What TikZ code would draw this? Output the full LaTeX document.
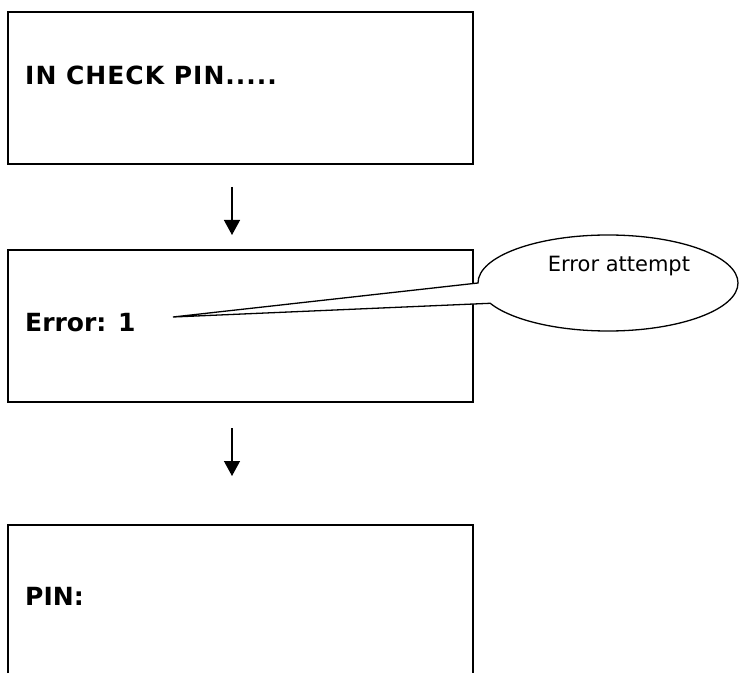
\documentclass[tikz,border=0pt]{standalone}
\usepackage{fontspec}
\setmainfont{DejaVu Sans}
\usetikzlibrary{arrows.meta}
\tikzset{
  boxframe/.style={draw=black, line width=2pt, rectangle, inner sep=0pt, minimum width=465pt, minimum height=152pt},
  boldlabel/.style={anchor=base west, inner sep=0pt, font=\fontsize{25}{30}\selectfont\bfseries},
  flowarrow/.style={line width=1.3pt, -{Triangle[width=16pt,length=15pt]}},
  callout/.style={draw=black, fill=white, line width=1.3pt, line join=miter},
  calloutlabel/.style={anchor=base, inner sep=0pt, font=\fontsize{21}{25}\selectfont}
}
\begin{document}
\begin{tikzpicture}[x=1pt,y=1pt]
\useasboundingbox (0,0) rectangle (739,673);
% boxes
\node[boxframe] (box1) at (240.5,585) {};
\node[boxframe] (box2) at (240.5,347) {};
\draw[line width=2pt] (8,0) -- (8,148) -- (473,148) -- (473,0);
% texts
\node[boldlabel, font=\fontsize{25}{30}\selectfont\bfseries\addfontfeatures{LetterSpace=4}] (t1) at (25,588) {IN CHECK PIN.....};
\node[boldlabel] (t2) at (25,341) {Error: 1};
\node[boldlabel] (t3) at (25,68) {PIN:};
% arrows
\coordinate (a1s) at (232,486);
\coordinate (a1e) at (232,438);
\coordinate (a2s) at (232,245);
\coordinate (a2e) at (232,197);
\draw[flowarrow] (a1s) -- (a1e);
\draw[flowarrow] (a2s) -- (a2e);
% callout
\coordinate (tip) at (173,356);
\draw[callout] (tip) -- (478,390) arc[start angle=180, end angle=-155, x radius=130, y radius=48] -- cycle;
\node[calloutlabel] (c1) at (619,401) {Error attempt};
\end{tikzpicture}
\end{document}
